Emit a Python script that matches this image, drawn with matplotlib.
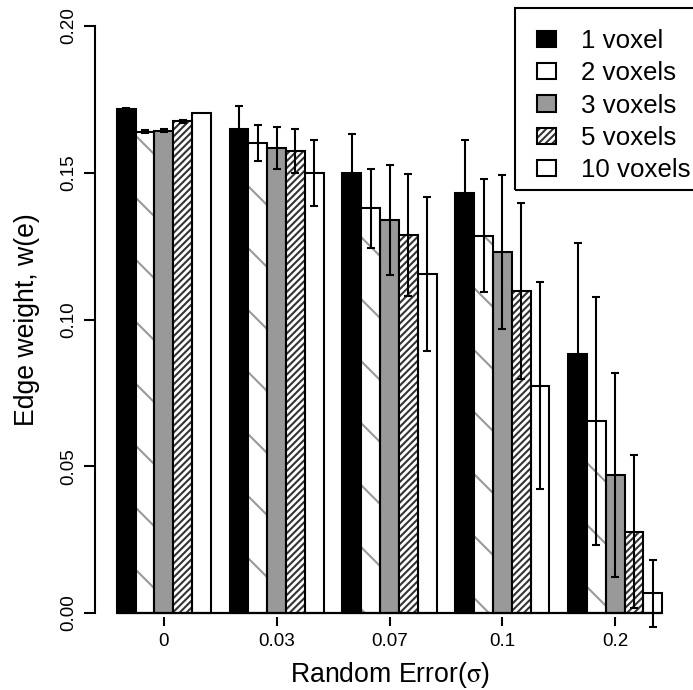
"""Edge weight vs random error, grouped bars with error bars (R barplot look)."""

import numpy as np
import matplotlib
matplotlib.use("Agg")
import matplotlib.pyplot as plt
from matplotlib.patches import Patch, Rectangle

# ---- data ----
sigma_labels = ["0", "0.03", "0.07", "0.1", "0.2"]
series_names = ["1 voxel", "2 voxels", "3 voxels", "5 voxels", "10 voxels"]

w_1vox = [0.1717, 0.1649, 0.1498, 0.1430, 0.0882]
w_2vox = [0.1640, 0.1602, 0.1379, 0.1286, 0.0654]
w_3vox = [0.1643, 0.1585, 0.1339, 0.1229, 0.0470]
w_5vox = [0.1676, 0.1574, 0.1288, 0.1097, 0.0277]
w_10vox = [0.1705, 0.1499, 0.1154, 0.0775, 0.0067]

err_1vox = [0.0005, 0.0078, 0.0133, 0.0180, 0.0377]
err_2vox = [0.0005, 0.0061, 0.0134, 0.0192, 0.0422]
err_3vox = [0.0005, 0.0072, 0.0186, 0.0263, 0.0349]
err_5vox = [0.0005, 0.0076, 0.0209, 0.0299, 0.0261]
err_10vox = [0.0, 0.0112, 0.0263, 0.0354, 0.0115]

# fill, hatch, hatch colour per series
styles = [
    ("black", None, None),
    ("white", "\\", "#999999"),
    ("#999999", None, None),
    ("white", "/////////", "#333333"),
    ("white", None, None),
]

DPI = 186
W, H = 693, 690
plt.rcParams["font.family"] = ["Liberation Sans", "DejaVu Sans"]
plt.rcParams["mathtext.fontset"] = "stix"
plt.rcParams["hatch.linewidth"] = 0.8

fig = plt.figure(figsize=(W / DPI, H / DPI), dpi=DPI)
# axes placed in pixels like the R plot region
ax = fig.add_axes([95 / W, (H - 617) / H, (684 - 95) / W, (617 - 4) / H])

values = [w_1vox, w_2vox, w_3vox, w_5vox, w_10vox]
errors = [err_1vox, err_2vox, err_3vox, err_5vox, err_10vox]
n_series = len(series_names)
n_groups = len(sigma_labels)
group_start = 1 + np.arange(n_groups) * (n_series + 1)

edge_lw = 0.8
handles = []
for i, (vals, errs, (fc, hatch, hcol)) in enumerate(zip(values, errors, styles)):
    lefts = group_start + i
    centers = lefts + 0.5
    if hatch:
        ax.bar(centers, vals, width=1, facecolor=fc, edgecolor=hcol,
               hatch=hatch, linewidth=0, zorder=2)
        ax.bar(centers, vals, width=1, fill=False, edgecolor="black",
               linewidth=edge_lw, zorder=2.1)
        handles.append((Patch(facecolor=fc, edgecolor=hcol, hatch=hatch, linewidth=0),
                        Patch(fill=False, edgecolor="black", linewidth=edge_lw)))
    else:
        ax.bar(centers, vals, width=1, facecolor=fc, edgecolor="black",
               linewidth=edge_lw, zorder=2)
        handles.append(Patch(facecolor=fc, edgecolor="black", linewidth=edge_lw))
    e = np.array(errs)
    m = e > 0
    ax.errorbar(centers[m], np.array(vals)[m], yerr=e[m], fmt="none",
                ecolor="black", elinewidth=0.8, capsize=1.6, capthick=0.8,
                zorder=3, clip_on=False)

# baseline under the bars
ax.plot([group_start[0], group_start[-1] + n_series], [0, 0], color="black",
        lw=0.85, zorder=4, solid_capstyle="butt")

ax.set_xlim(-0.16, 31.16)
ax.set_ylim(-4 / 2935, 609 / 2935)

for s in ["top", "right", "bottom"]:
    ax.spines[s].set_visible(False)
ax.spines["left"].set_bounds(0, 0.2)
ax.spines["left"].set_linewidth(0.8)

ax.set_yticks([0.0, 0.05, 0.10, 0.15, 0.20])
ax.set_yticklabels(["0.00", "0.05", "0.10", "0.15", "0.20"], rotation=90, va="center")
ax.set_xticks(group_start + n_series / 2)
ax.set_xticklabels(sigma_labels)
ax.tick_params(axis="y", length=4.3, width=0.8, pad=2.5, labelsize=7.3)
ax.tick_params(axis="x", length=3.5, width=0.8, pad=2.7, labelsize=7.3)

fig.text(27 / W, (H - 320) / H, "Edge weight, w(e)", rotation=90,
         ha="center", va="center", fontsize=10.3)
fig.text(390 / W, (H - 675) / H, r"Random Error($\mathrm{\sigma}$)",
         ha="center", va="center", fontsize=10.3)

# legend without its own frame; box drawn separately so it runs off the right edge
leg = ax.legend(handles, series_names, loc="upper left",
                bbox_to_anchor=(519 / W, 1 - 11 / H), bbox_transform=fig.transFigure,
                fontsize=10, frameon=False,
                borderpad=0.7, labelspacing=0.32, handlelength=0.75,
                handleheight=0.6, handletextpad=0.95, borderaxespad=0)
fig.patches.append(Rectangle((515 / W, 1 - 190 / H), 200 / W, 182 / H,
                             transform=fig.transFigure, fill=False,
                             edgecolor="black", linewidth=0.8))

fig.savefig("out.png", dpi=DPI)
